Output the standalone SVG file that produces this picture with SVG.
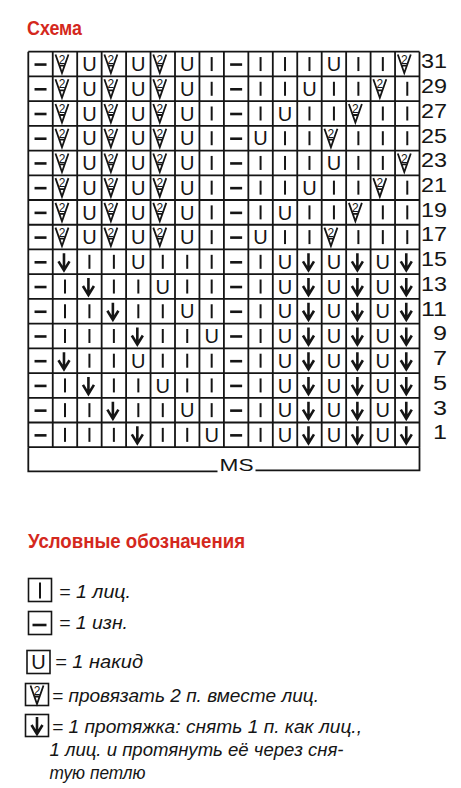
<svg xmlns="http://www.w3.org/2000/svg" width="461" height="788" viewBox="0 0 461 788">
<style>
.red{fill:#d4281d;font-family:"Liberation Sans",Arial,sans-serif;font-weight:bold}
.grid{fill:none;stroke:#151515;stroke-width:1.8}
.sym{fill:none;stroke:#151515;stroke-linecap:butt}
.yo{font-family:"Liberation Sans",Arial,sans-serif;font-size:20px;fill:#151515;text-anchor:middle}
.two{font-family:"Liberation Sans",Arial,sans-serif;font-size:12px;fill:#151515;text-anchor:middle}
.num{font-family:"Liberation Sans",Arial,sans-serif;font-size:20px;fill:#151515;text-anchor:end}
.ms{font-family:"Liberation Sans",Arial,sans-serif;font-size:17px;fill:#151515}
.leg{font-family:"Liberation Sans",Arial,sans-serif;font-style:italic;font-size:19px;fill:#151515}
.box{fill:#fff;stroke:#151515;stroke-width:1.6}
</style>
<defs>
<path id="k" class="sym" stroke-width="2" d="M0,-7V7"/>
<path id="p" class="sym" stroke-width="2.6" d="M-6,0.5H6"/>
<text id="y" class="yo" x="0" y="7.2">U</text>
<g id="k2">
<path class="sym" stroke-width="1.8" d="M-9.5,-9.5L-3,9L3.5,-9.5M-5.8,1.5H-0.2"/>
<text class="two" x="-3" y="-0.3">2</text>
</g>
<path id="a" class="sym" stroke-width="2.6" d="M-1,-8.5V8M-6.5,-0.5L-1,8.5L4.5,-0.5"/>
<g id="ul">
<use href="#p" x="40.53"/><use href="#k2" x="64.98"/><use href="#y" x="89.43"/><use href="#k2" x="113.88"/>
<use href="#y" x="138.33"/><use href="#k2" x="162.78"/><use href="#y" x="187.23"/><use href="#k" x="211.68"/>
</g>
<g id="lr">
<use href="#p" x="236.13"/><use href="#k" x="260.58"/><use href="#y" x="285.03"/><use href="#a" x="309.48"/>
<use href="#y" x="333.93"/><use href="#a" x="358.38"/><use href="#y" x="382.83"/><use href="#a" x="407.28"/>
</g>
<g id="r31">
<use href="#p" x="236.13"/><use href="#k" x="260.58"/><use href="#k" x="285.03"/><use href="#k" x="309.48"/>
<use href="#y" x="333.93"/><use href="#k" x="358.38"/><use href="#k" x="382.83"/><use href="#k2" x="407.28"/>
</g>
<g id="r29">
<use href="#p" x="236.13"/><use href="#k" x="260.58"/><use href="#k" x="285.03"/><use href="#y" x="309.48"/>
<use href="#k" x="333.93"/><use href="#k" x="358.38"/><use href="#k2" x="382.83"/><use href="#k" x="407.28"/>
</g>
<g id="r27">
<use href="#p" x="236.13"/><use href="#k" x="260.58"/><use href="#y" x="285.03"/><use href="#k" x="309.48"/>
<use href="#k" x="333.93"/><use href="#k2" x="358.38"/><use href="#k" x="382.83"/><use href="#k" x="407.28"/>
</g>
<g id="r25">
<use href="#p" x="236.13"/><use href="#y" x="260.58"/><use href="#k" x="285.03"/><use href="#k" x="309.48"/>
<use href="#k2" x="333.93"/><use href="#k" x="358.38"/><use href="#k" x="382.83"/><use href="#k" x="407.28"/>
</g>
<g id="l15">
<use href="#p" x="40.53"/><use href="#a" x="64.98"/><use href="#k" x="89.43"/><use href="#k" x="113.88"/>
<use href="#y" x="138.33"/><use href="#k" x="162.78"/><use href="#k" x="187.23"/><use href="#k" x="211.68"/>
</g>
<g id="l13">
<use href="#p" x="40.53"/><use href="#k" x="64.98"/><use href="#a" x="89.43"/><use href="#k" x="113.88"/>
<use href="#k" x="138.33"/><use href="#y" x="162.78"/><use href="#k" x="187.23"/><use href="#k" x="211.68"/>
</g>
<g id="l11">
<use href="#p" x="40.53"/><use href="#k" x="64.98"/><use href="#k" x="89.43"/><use href="#a" x="113.88"/>
<use href="#k" x="138.33"/><use href="#k" x="162.78"/><use href="#y" x="187.23"/><use href="#k" x="211.68"/>
</g>
<g id="l9">
<use href="#p" x="40.53"/><use href="#k" x="64.98"/><use href="#k" x="89.43"/><use href="#k" x="113.88"/>
<use href="#a" x="138.33"/><use href="#k" x="162.78"/><use href="#k" x="187.23"/><use href="#y" x="211.68"/>
</g>
</defs>
<rect width="461" height="788" fill="#fff"/>
<text id="title" class="red" x="27" y="35" font-size="21" textLength="55" lengthAdjust="spacingAndGlyphs">Схема</text>
<g id="chart-grid">
<path class="grid" d="M28.3,51.7V447.22M52.75,51.7V447.22M77.2,51.7V447.22M101.65,51.7V447.22M126.1,51.7V447.22M150.55,51.7V447.22M175,51.7V447.22M199.45,51.7V447.22M223.9,51.7V447.22M248.35,51.7V447.22M272.8,51.7V447.22M297.25,51.7V447.22M321.7,51.7V447.22M346.15,51.7V447.22M370.6,51.7V447.22M395.05,51.7V447.22M419.5,51.7V447.22"/>
<path class="grid" d="M28.3,51.7H419.5M28.3,76.42H419.5M28.3,101.14H419.5M28.3,125.86H419.5M28.3,150.58H419.5M28.3,175.3H419.5M28.3,200.02H419.5M28.3,224.74H419.5M28.3,249.46H419.5M28.3,274.18H419.5M28.3,298.9H419.5M28.3,323.62H419.5M28.3,348.34H419.5M28.3,373.06H419.5M28.3,397.78H419.5M28.3,422.5H419.5M28.3,447.22H419.5"/>
<path class="grid" d="M28.3,447.22V471.3H217.5M255.5,470.3H419.5V447.22"/>
<text class="ms" x="219.5" y="470.7" textLength="34" lengthAdjust="spacingAndGlyphs">MS</text>
</g>
<g id="chart-symbols">
<use href="#ul" y="64.06"/><use href="#r31" y="64.06"/>
<use href="#ul" y="88.78"/><use href="#r29" y="88.78"/>
<use href="#ul" y="113.5"/><use href="#r27" y="113.5"/>
<use href="#ul" y="138.22"/><use href="#r25" y="138.22"/>
<use href="#ul" y="162.94"/><use href="#r31" y="162.94"/>
<use href="#ul" y="187.66"/><use href="#r29" y="187.66"/>
<use href="#ul" y="212.38"/><use href="#r27" y="212.38"/>
<use href="#ul" y="237.1"/><use href="#r25" y="237.1"/>
<use href="#l15" y="261.82"/><use href="#lr" y="261.82"/>
<use href="#l13" y="286.54"/><use href="#lr" y="286.54"/>
<use href="#l11" y="311.26"/><use href="#lr" y="311.26"/>
<use href="#l9" y="335.98"/><use href="#lr" y="335.98"/>
<use href="#l15" y="360.7"/><use href="#lr" y="360.7"/>
<use href="#l13" y="385.42"/><use href="#lr" y="385.42"/>
<use href="#l11" y="410.14"/><use href="#lr" y="410.14"/>
<use href="#l9" y="434.86"/><use href="#lr" y="434.86"/>
</g>
<g id="row-numbers">
<text class="num" x="447" y="68.4" textLength="26" lengthAdjust="spacingAndGlyphs">31</text>
<text class="num" x="447" y="93.1" textLength="26" lengthAdjust="spacingAndGlyphs">29</text>
<text class="num" x="447" y="117.8" textLength="26" lengthAdjust="spacingAndGlyphs">27</text>
<text class="num" x="447" y="142.6" textLength="26" lengthAdjust="spacingAndGlyphs">25</text>
<text class="num" x="447" y="167.3" textLength="26" lengthAdjust="spacingAndGlyphs">23</text>
<text class="num" x="447" y="192" textLength="26" lengthAdjust="spacingAndGlyphs">21</text>
<text class="num" x="447" y="216.7" textLength="26" lengthAdjust="spacingAndGlyphs">19</text>
<text class="num" x="447" y="241.4" textLength="26" lengthAdjust="spacingAndGlyphs">17</text>
<text class="num" x="447" y="266.2" textLength="26" lengthAdjust="spacingAndGlyphs">15</text>
<text class="num" x="447" y="290.9" textLength="26" lengthAdjust="spacingAndGlyphs">13</text>
<text class="num" x="447" y="315.6" textLength="26" lengthAdjust="spacingAndGlyphs">11</text>
<text class="num" x="447" y="340.3" textLength="14" lengthAdjust="spacingAndGlyphs">9</text>
<text class="num" x="447" y="365" textLength="14" lengthAdjust="spacingAndGlyphs">7</text>
<text class="num" x="447" y="389.8" textLength="14" lengthAdjust="spacingAndGlyphs">5</text>
<text class="num" x="447" y="414.5" textLength="14" lengthAdjust="spacingAndGlyphs">3</text>
<text class="num" x="447" y="439.2" textLength="14" lengthAdjust="spacingAndGlyphs">1</text>
</g>
<text id="legend-title" class="red" x="28" y="548.3" font-size="20" textLength="217" lengthAdjust="spacingAndGlyphs">Условные обозначения</text>
<g id="legend-knit">
<rect class="box" x="28.5" y="578.5" width="23" height="23"/>
<path class="sym" stroke-width="2" d="M40,582.5V598.5"/>
<text class="leg" x="59" y="598" textLength="72" lengthAdjust="spacingAndGlyphs">= 1 лиц.</text>
</g>
<g id="legend-purl">
<rect class="box" x="28.5" y="611.5" width="23" height="23"/>
<path class="sym" stroke-width="2.6" d="M32.5,625H46.5"/>
<text class="leg" x="59" y="628.5" textLength="69" lengthAdjust="spacingAndGlyphs">= 1 изн.</text>
</g>
<g id="legend-yo">
<rect class="box" x="27" y="650.5" width="23" height="23"/>
<use href="#y" x="38.5" y="662"/>
<text class="leg" x="55" y="667.5" textLength="88" lengthAdjust="spacingAndGlyphs">= 1 накид</text>
</g>
<g id="legend-k2tog">
<rect class="box" x="25.5" y="683.5" width="23" height="22"/>
<use href="#k2" x="40" y="695"/>
<text class="leg" x="52" y="701.5" textLength="267" lengthAdjust="spacingAndGlyphs">= провязать 2 п. вместе лиц.</text>
</g>
<g id="legend-slip">
<rect class="box" x="25.5" y="714.5" width="23" height="22"/>
<use href="#a" x="38" y="725.5"/>
<text class="leg" x="52" y="733" textLength="310" lengthAdjust="spacingAndGlyphs">= 1 протяжка: снять 1 п. как лиц.,</text>
<text class="leg" x="49.5" y="756" textLength="294" lengthAdjust="spacingAndGlyphs">1 лиц. и протянуть её через сня-</text>
<text class="leg" x="49.5" y="779" textLength="96" lengthAdjust="spacingAndGlyphs">тую петлю</text>
</g>
</svg>
